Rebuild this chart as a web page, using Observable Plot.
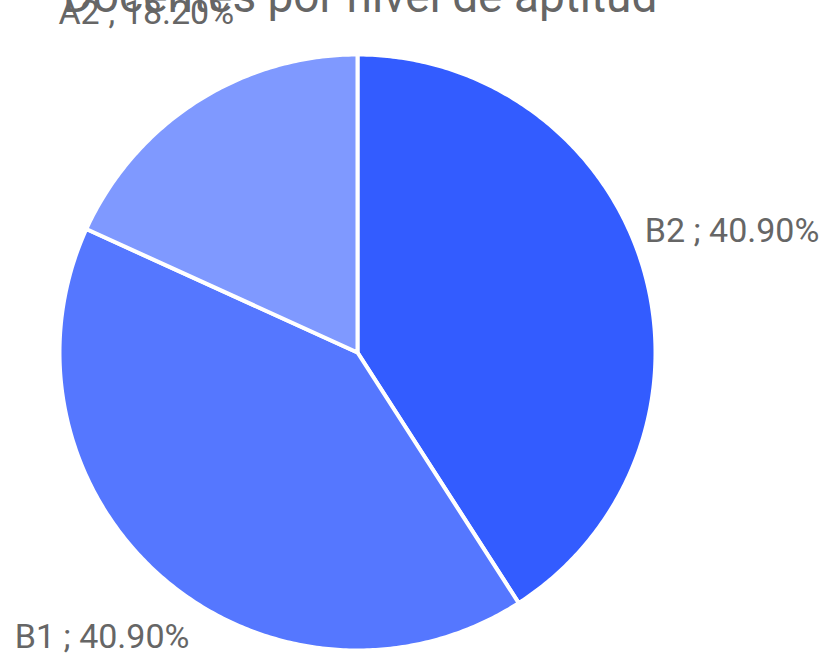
<!DOCTYPE html>
<html>
<head>
<meta charset="utf-8">
<script src="https://cdn.jsdelivr.net/npm/d3@7"></script>
<script src="https://cdn.jsdelivr.net/npm/@observablehq/plot@0.6"></script>
<style>
  html, body { margin: 0; padding: 0; background: #fff; overflow: hidden; }
  #wrap { position: relative; width: 824px; height: 657px; }
  #title { position: absolute; left: 0; width: 720px; text-align: center; top: -27px; font: 46px/46px Roboto, sans-serif; color: #666; white-space: nowrap; z-index: 0; }
  #chart { position: absolute; left: 0; top: 0; z-index: 1; }
</style>
</head>
<body>
<div id="wrap">
  <div id="title">Docentes por nivel de aptitud</div>
  <div id="chart"></div>
</div>
<script>
const categories = ["B2", "B1", "A2"];
const values = [40.9, 40.9, 18.2];
const labels = ["B2 ; 40.90%", "B1 ; 40.90%", "A2 ; 18.20%"];
const colors = ["#335cff", "#5577ff", "#7f99ff"];

const W = 824, H = 657, cx = 357, cy = 352, R = 298;

const data = categories.map((c, i) => ({category: c, value: values[i], label: labels[i]}));
const arcs = d3.pie().sort(null).value(d => d.value)(data);

// slice outlines in unit coordinates (radius 1), angle clockwise from top, y pointing down
const pts = [];
arcs.forEach(a => {
  const n = Math.max(2, Math.ceil((a.endAngle - a.startAngle) / 0.01));
  pts.push({category: a.data.category, x: 0, y: 0});
  for (let k = 0; k <= n; k++) {
    const t = a.startAngle + (a.endAngle - a.startAngle) * k / n;
    pts.push({category: a.data.category, x: Math.sin(t), y: -Math.cos(t)});
  }
  pts.push({category: a.data.category, x: 0, y: 0});
});

const labelPts = arcs.map(a => {
  const m = (a.startAngle + a.endAngle) / 2;
  return {label: a.data.label, x: Math.sin(m) * 1.31, y: -Math.cos(m) * 1.31};
});

const plot = Plot.plot({
  width: W, height: H,
  margin: 0,
  x: {domain: [-cx / R, (W - cx) / R], range: [0, W], axis: null},
  y: {domain: [-cy / R, (H - cy) / R], range: [0, H], axis: null},
  color: {domain: categories, range: colors},
  style: {fontFamily: "Roboto, sans-serif", background: "transparent"},
  marks: [
    Plot.line(pts, {x: "x", y: "y", z: "category", fill: "category", stroke: "#fff", strokeWidth: 4, strokeLinejoin: "round"}),
    Plot.text(labelPts, {x: "x", y: "y", text: "label", textAnchor: "middle", lineAnchor: "bottom", fill: "#666", fontSize: 34})
  ]
});
document.getElementById("chart").appendChild(plot);
</script>
</body>
</html>
